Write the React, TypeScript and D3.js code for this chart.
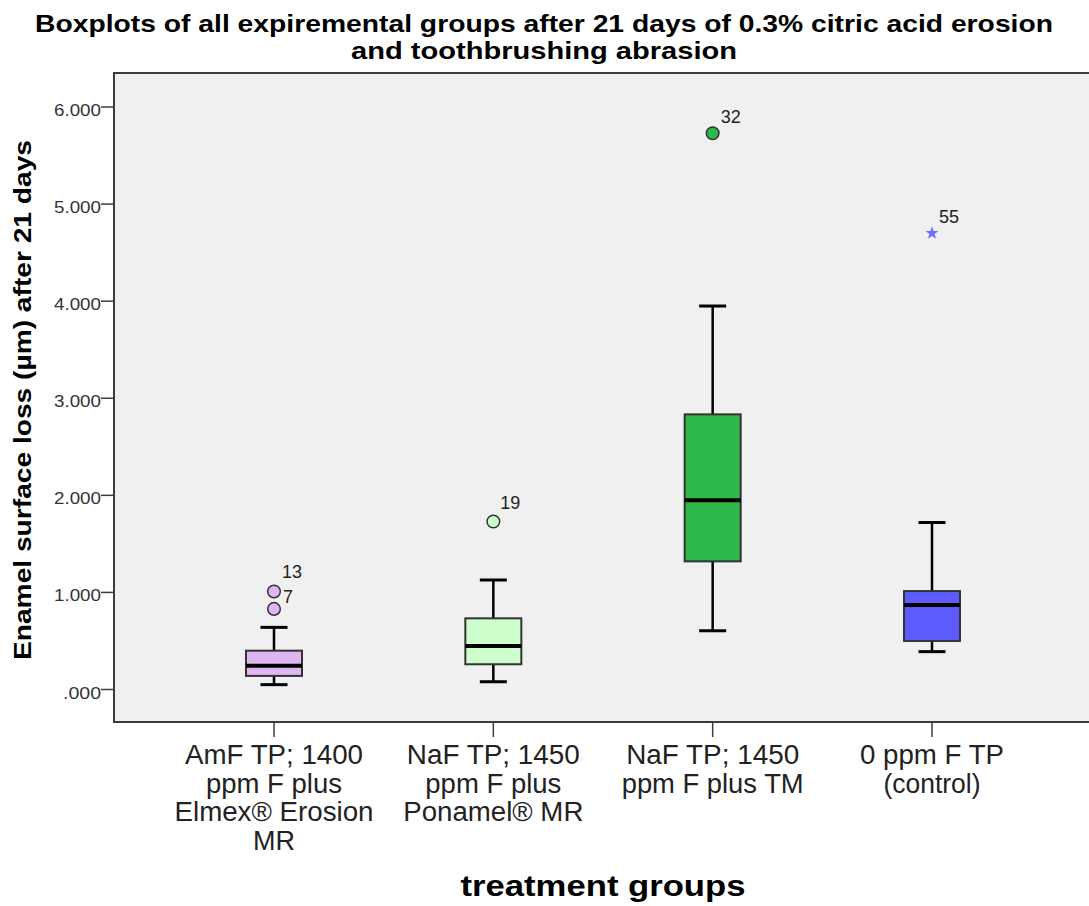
import React from "react";
import * as d3 from "d3";

const categories = [
  ["AmF TP; 1400", "ppm F plus", "Elmex® Erosion", "MR"],
  ["NaF TP; 1450", "ppm F plus", "Ponamel® MR"],
  ["NaF TP; 1450", "ppm F plus TM"],
  ["0 ppm F TP", "(control)"],
];
const whiskerLow = [0.05, 0.08, 0.605, 0.39];
const q1 = [0.14, 0.26, 1.32, 0.5];
const median = [0.245, 0.448, 1.95, 0.87];
const q3 = [0.4, 0.733, 2.834, 1.014];
const whiskerHigh = [0.64, 1.128, 3.95, 1.72];
const fills = ["#dfb6f2", "#ccffcc", "#2eb84a", "#5c5cff"];
const outlierGroup = [0, 0, 1, 2, 3];
const outlierValue = [0.83, 1.01, 1.73, 5.73, 4.7];
const outlierLabel = ["7", "13", "19", "32", "55"];
const outlierType = ["circle", "circle", "circle", "circle", "star"];
const yTicks = [0, 1, 2, 3, 4, 5, 6];

// measured text widths (the original export is horizontally stretched)
const catWidths = [
  [178, 136, 199, 42],
  [173, 136, 180],
  [173, 182],
  [144, 97],
];
const labelDx = [9, 8, 7, 8, 7];
const labelDy = [-6, -13, -13, -10, -10];

const W = 1089;
const H = 906;
const frame = { left: 114, top: 73, right: 1100, bottom: 722 };

export default function App() {
  const x = d3
    .scalePoint<number>()
    .domain(d3.range(categories.length))
    .range([274, 932]);
  const y = d3.scaleLinear().domain([0, 6]).range([689.5, 107]);
  const fmt = (v: number) => {
    const s = d3.format(".3f")(v);
    return s.startsWith("0") ? s.slice(1) : s;
  };
  const boxW = 56;
  const capW = 27;
  const star = d3.symbol().type(d3.symbolStar).size(55)();
  const font = "'Liberation Sans', Arial, sans-serif";
  return (
    <svg
      width={W}
      height={H}
      style={{ position: "absolute", left: 0, top: 0, background: "#fff" }}
      fontFamily={font}
    >
      <text x={544} y={32} textAnchor="middle" fontSize={24} fontWeight="bold" fill="#000"
        textLength={1018} lengthAdjust="spacingAndGlyphs">
        Boxplots of all expiremental groups after 21 days of 0.3% citric acid erosion
      </text>
      <text x={544} y={59} textAnchor="middle" fontSize={24} fontWeight="bold" fill="#000"
        textLength={386} lengthAdjust="spacingAndGlyphs">
        and toothbrushing abrasion
      </text>
      <rect
        x={frame.left}
        y={frame.top}
        width={frame.right - frame.left}
        height={frame.bottom - frame.top}
        fill="#f0f0f0"
        stroke="#3c3c3c"
        strokeWidth={2}
      />
      {yTicks.map((t) => (
        <g key={t}>
          <line x1={101} x2={frame.left} y1={y(t)} y2={y(t)} stroke="#3c3c3c" strokeWidth={1.5} />
          <text x={101} y={y(t) + 9} textAnchor="end" fontSize={17} fill="#333"
            textLength={t === 0 ? 38 : 47} lengthAdjust="spacingAndGlyphs">
            {fmt(t)}
          </text>
        </g>
      ))}
      {categories.map((c, i) => (
        <g key={i}>
          <line x1={x(i)} x2={x(i)} y1={frame.bottom} y2={frame.bottom + 15} stroke="#3c3c3c" strokeWidth={1.5} />
          {c.map((line, j) => (
            <text
              key={j}
              x={x(i)!}
              y={764 + j * 28.5}
              textAnchor="middle"
              fontSize={27}
              fill="#222"
              textLength={catWidths[i][j]}
              lengthAdjust="spacingAndGlyphs"
            >
              {line}
            </text>
          ))}
        </g>
      ))}
      {categories.map((_, i) => {
        const cx = x(i)!;
        return (
          <g key={"b" + i}>
            <line x1={cx} x2={cx} y1={y(whiskerHigh[i])} y2={y(q3[i])} stroke="#000" strokeWidth={2.5} />
            <line x1={cx} x2={cx} y1={y(q1[i])} y2={y(whiskerLow[i])} stroke="#000" strokeWidth={2.5} />
            <line x1={cx - capW / 2} x2={cx + capW / 2} y1={y(whiskerHigh[i])} y2={y(whiskerHigh[i])} stroke="#000" strokeWidth={3} />
            <line x1={cx - capW / 2} x2={cx + capW / 2} y1={y(whiskerLow[i])} y2={y(whiskerLow[i])} stroke="#000" strokeWidth={3} />
            <rect
              x={cx - boxW / 2}
              y={y(q3[i])}
              width={boxW}
              height={y(q1[i]) - y(q3[i])}
              fill={fills[i]}
              stroke="#333"
              strokeWidth={2}
            />
            <line x1={cx - boxW / 2} x2={cx + boxW / 2} y1={y(median[i])} y2={y(median[i])} stroke="#000" strokeWidth={4} />
          </g>
        );
      })}
      {outlierValue.map((v, k) => {
        const g = outlierGroup[k];
        const cx = x(g)!;
        const cy = y(v);
        return (
          <g key={"o" + k}>
            {outlierType[k] === "circle" ? (
              <circle cx={cx} cy={cy} r={6.3} fill={fills[g]} stroke="#333" strokeWidth={1.5} />
            ) : (
              <path d={star!} transform={`translate(${cx},${cy})`} fill="#6e6eff" />
            )}
            <text x={cx + labelDx[k]} y={cy + labelDy[k]} fontSize={18} fill="#222">
              {outlierLabel[k]}
            </text>
          </g>
        );
      })}
      <text
        transform={`translate(31,400) rotate(-90)`}
        textAnchor="middle"
        fontSize={24}
        fontWeight="bold"
        fill="#000"
        textLength={520}
        lengthAdjust="spacingAndGlyphs"
      >
        Enamel surface loss (µm) after 21 days
      </text>
      <text x={603} y={896} textAnchor="middle" fontSize={29} fontWeight="bold" fill="#000"
        textLength={285} lengthAdjust="spacingAndGlyphs">
        treatment groups
      </text>
    </svg>
  );
}
